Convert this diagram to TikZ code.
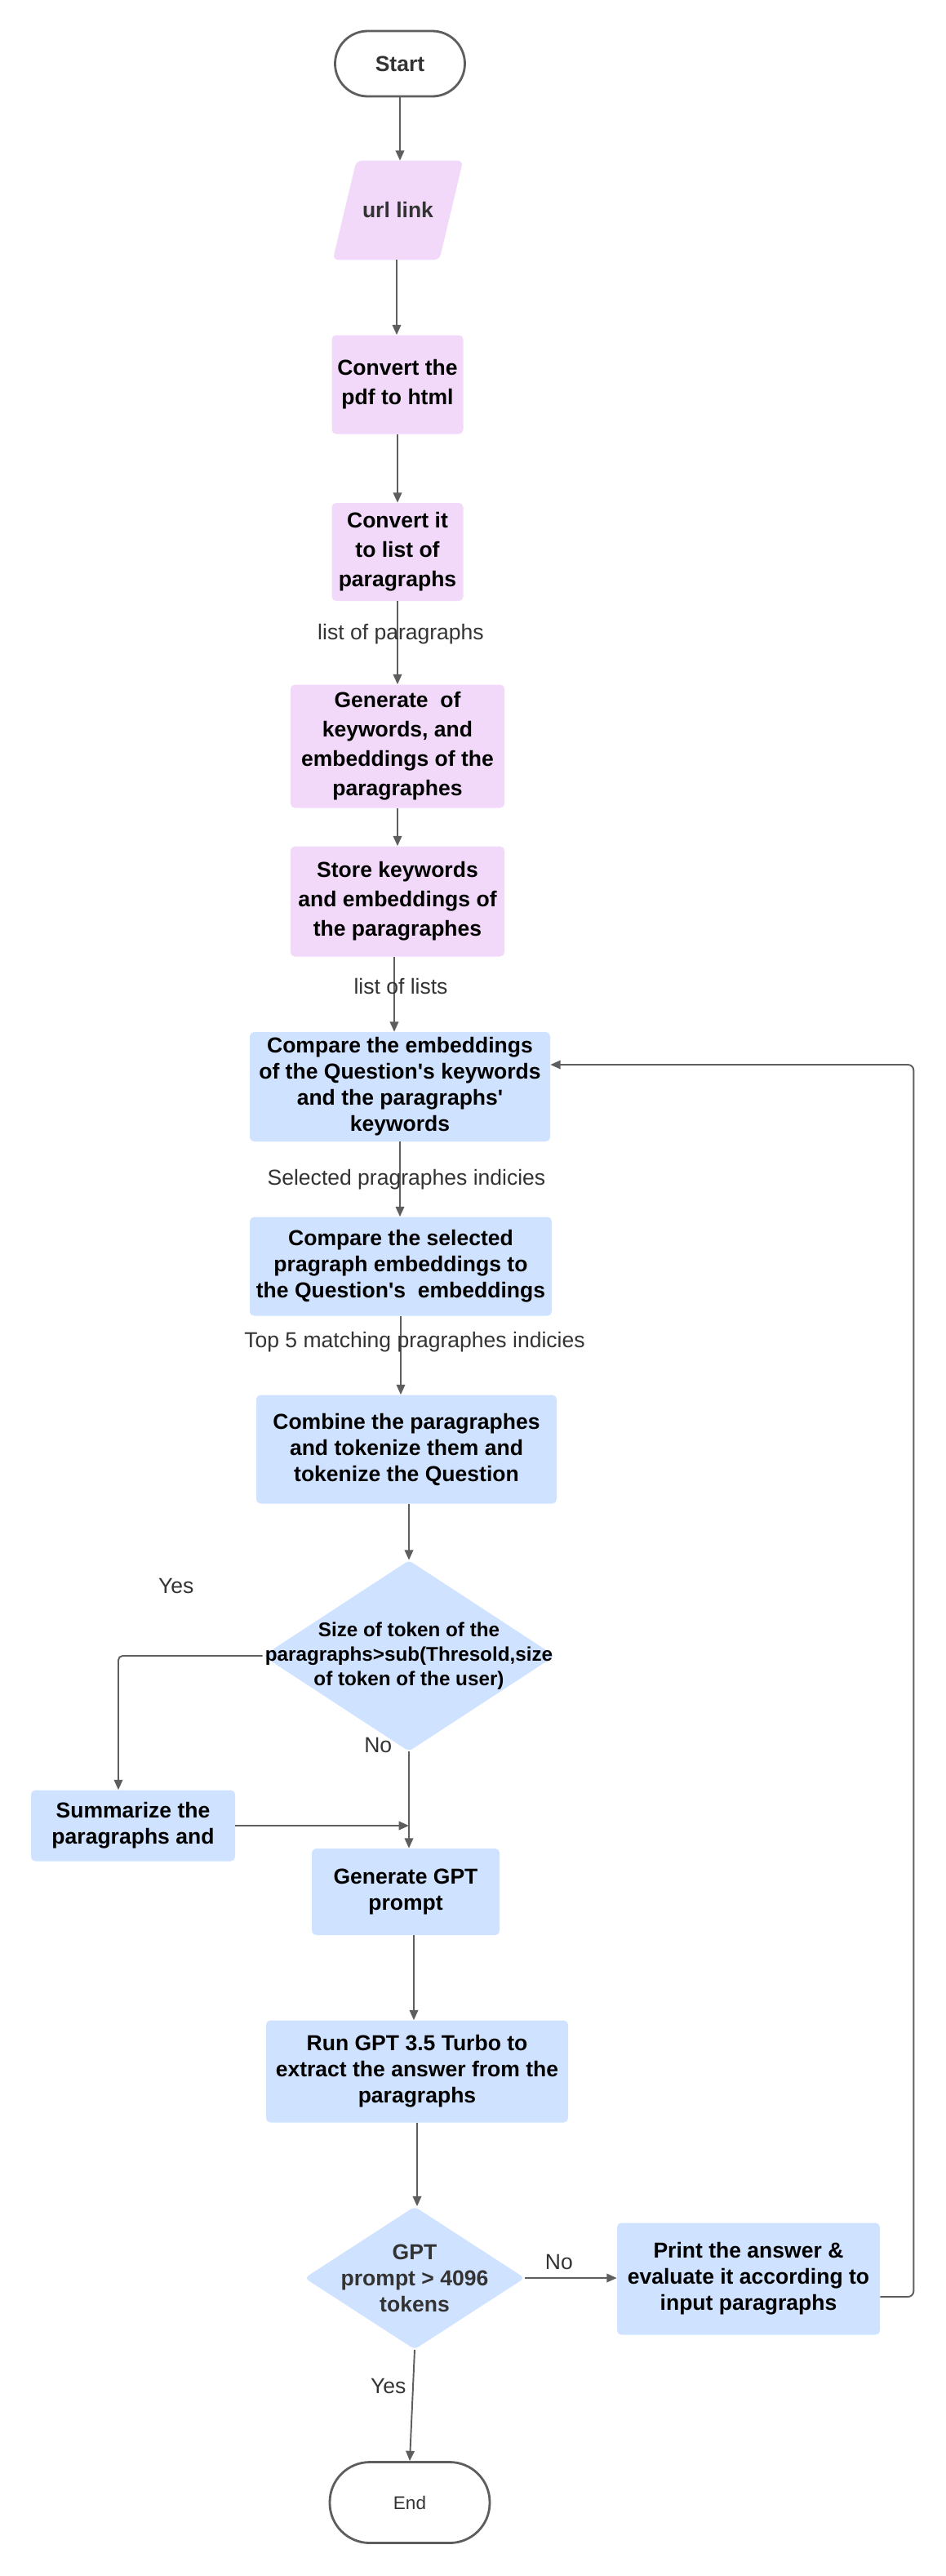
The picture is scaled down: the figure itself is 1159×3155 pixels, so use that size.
\documentclass[tikz,border=0pt]{standalone}
\usepackage{fontspec}
\setmainfont{Liberation Sans}[Ligatures=TeXOff]
\usetikzlibrary{arrows.meta,shapes.geometric,backgrounds}

\newlength\px
\setlength\px{0.02cm}

\definecolor{pinkbox}{HTML}{F2D9FA}
\definecolor{bluebox}{HTML}{CFE2FF}
\definecolor{edgegray}{HTML}{5E5E5E}
\definecolor{darktext}{HTML}{333333}

\tikzset{
  pinkstep/.style={fill=pinkbox, rounded corners=3pt, align=center, inner sep=0pt,
    font=\fontsize{15.1}{20.5}\selectfont\bfseries},
  bluestep/.style={fill=bluebox, rounded corners=3pt, align=center, inner sep=0pt,
    font=\fontsize{15.1}{18.2}\selectfont\bfseries},
  terminal/.style={draw=edgegray, line width=1.6pt, fill=white, text=darktext},
  decision/.style={diamond, fill=bluebox, inner sep=0pt, rounded corners=3pt},
  arr/.style={draw=edgegray, line width=1.1pt, -{Triangle[length=7pt,width=6pt]}},
  lbl/.style={text=darktext, font=\fontsize{15.1}{18}\selectfont}
}

\begin{document}
\begin{tikzpicture}[x=0.02cm, y=-0.02cm]
  \useasboundingbox (0,0) rectangle (1159,3155);

  % top column
  \node[terminal, minimum width=159\px, minimum height=80\px, rounded corners=40\px,
    font=\fontsize{15.1}{18}\selectfont\bfseries] (start) at (490,78) {Start};
  \node[minimum width=159\px, minimum height=121\px, inner sep=0pt,
    text=darktext, font=\fontsize{15.1}{18}\selectfont\bfseries] (url) at (487.5,257.5) {url link};
  \begin{scope}[on background layer]
    \fill[pinkbox, rounded corners=4pt] (url.south west) -- ([xshift=-29\px]url.south east)
      -- (url.north east) -- ([xshift=29\px]url.north west) -- cycle;
  \end{scope}
  \node[pinkstep, minimum width=161\px, minimum height=121\px] (pdf) at (487,471) {Convert the\\pdf to html};
  \node[pinkstep, minimum width=161\px, minimum height=120\px] (para) at (487,676) {Convert it\\to list of\\paragraphs};
  \node[pinkstep, minimum width=262\px, minimum height=151\px] (gen) at (487,914)
    {Generate\ \ of\\keywords, and\\embeddings of the\\paragraphes};
  \node[pinkstep, minimum width=262\px, minimum height=135\px] (store) at (487,1104)
    {Store keywords\\and embeddings of\\the paragraphes};

  % matching
  \node[bluestep, minimum width=368\px, minimum height=134\px] (cmpkw) at (490,1331)
    {Compare the embeddings\\of the Question's keywords\\and the paragraphs'\\keywords};
  \node[bluestep, minimum width=370\px, minimum height=121\px] (cmpemb) at (491,1551)
    {Compare the selected\\pragraph embeddings to\\the Question's\ \ embeddings};
  \node[bluestep, minimum width=368\px, minimum height=133\px] (combine) at (498,1775)
    {Combine the paragraphes\\and tokenize them and\\tokenize the Question};

  % token size check
  \node[decision, minimum width=358\px, minimum height=234\px,
    label={[align=center, font=\fontsize{13.8}{17}\selectfont\bfseries]center:{Size of token of the\\paragraphs>sub(Thresold,size\\of token of the user)}}] (size) at (501,2028) {};
  \node[bluestep, minimum width=250\px, minimum height=87\px] (summ) at (163,2236) {Summarize the\\paragraphs and};
  \node[bluestep, minimum width=230\px, minimum height=106\px] (gptgen) at (497,2317) {Generate GPT\\prompt};
  \node[bluestep, minimum width=370\px, minimum height=125\px] (run) at (511,2537)
    {Run GPT 3.5 Turbo to\\extract the answer from the\\paragraphs};

  % answer
  \node[decision, minimum width=270\px, minimum height=175\px,
    label={[align=center, text=darktext, font=\fontsize{15.1}{18.2}\selectfont\bfseries]center:{GPT\\prompt > 4096\\tokens}}] (gptd) at (508,2790) {};
  \node[bluestep, minimum width=322\px, minimum height=137\px] (print) at (917,2791)
    {Print the answer \&\\evaluate it according to\\input paragraphs};
  \node[terminal, minimum width=196\px, minimum height=99\px, rounded corners=49\px,
    font=\fontsize{12.8}{15}\selectfont] (end) at (502,3065) {End};

  % connectors
  \draw[arr] (start.south) -- (start.south |- url.north);
  \draw[arr] ([xshift=-1.5\px]url.south) -- ([xshift=-1.5\px]url.south |- pdf.north);
  \draw[arr] (pdf) -- (para);
  \draw[arr] (para.south) -- node[lbl, pos=0.4, xshift=4\px] {list of paragraphs} (para.south |- gen.north);
  \draw[arr] (gen) -- (store);
  \draw[arr] ([xshift=-4\px]store.south) -- node[lbl, pos=0.39, xshift=8\px] {list of lists}
    ([xshift=-4\px]store.south |- cmpkw.north);
  \draw[arr] (cmpkw.south) -- node[lbl, pos=0.5, xshift=8\px] {Selected pragraphes indicies} (cmpkw.south |- cmpemb.north);
  \draw[arr] (cmpemb.south) -- node[lbl, pos=0.33, xshift=17\px] {Top 5 matching pragraphes indicies}
    (cmpemb.south |- combine.north);
  \draw[arr] ([xshift=3\px]combine.south) -- (size.north);
  \draw[arr, rounded corners=3pt] (size.west) -| node[lbl, pos=0.3, yshift=86\px] {Yes}
    ([xshift=-18\px]summ.north);
  \draw[arr] (size.south) -- node[lbl, pos=0, anchor=east, xshift=-14\px, yshift=8\px] {No}
    (size.south |- gptgen.north);
  \draw[arr] (summ.east) -- (summ.east -| size.south);
  \draw[arr] ([xshift=10\px]gptgen.south) -- ([xshift=10\px]gptgen.south |- run.north);
  \draw[arr] (run.south) -- (run.south |- gptd.north);
  \draw[arr] (gptd.east) -- node[lbl, pos=0.37, above=2pt] {No} (gptd.east -| print.west);
  \draw[arr] (gptd.south) -- node[lbl, pos=0.33, left=1pt] {Yes} (end.north);
  \draw[arr, rounded corners=4pt] ([yshift=-22\px]print.east) -- ++(41,0) |- ([yshift=27\px]cmpkw.east);
\end{tikzpicture}
\end{document}
